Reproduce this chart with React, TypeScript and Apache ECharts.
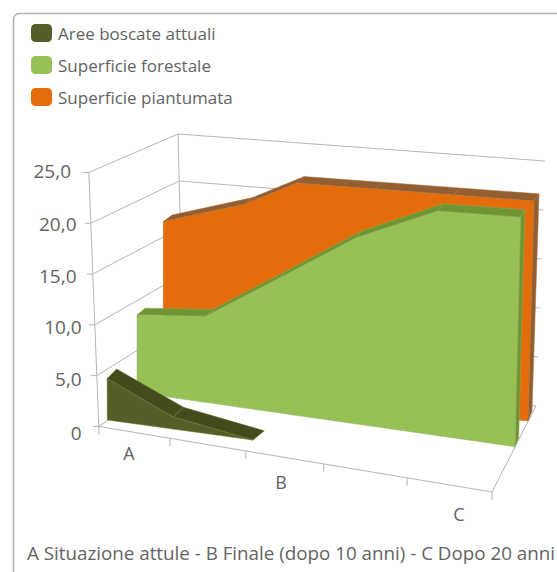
import React, { useEffect, useRef } from "react";
import * as echarts from "echarts";

const seriesNames = ["Superficie piantumata", "Superficie forestale", "Aree boscate attuali"];
const orangeValues = [16.9, 19.4, 22, 22, 22, 22];
const greenValues = [8, 8.8, 13.65, 18.6, 22.2, 22.5];
const oliveValues = [4.1, 1.2, 0, null, null, null];
const valueTicks = [0, 5, 10, 15, 20, 25];
const valueLabels = ["0", "5,0", "10,0", "15,0", "20,0", "25,0"];
const categoryLabels = ["A", "B", "C"];
const footer = "A Situazione attule - B Finale (dopo 10 anni) - C Dopo 20 anni";

const TEXT = "#636363";
const LINE = "#b4b4b4";
const FONT = '"Open Sans", sans-serif';
const V_MAX = 25;
const xTicks = [0, 0.181, 0.374, 0.572, 0.784, 1];

type Pt = [number, number];
// Plane: corners in projected page space: bottom-left, bottom-right, top-left, top-right
type Plane = { bl: Pt; br: Pt; tl: Pt; tr: Pt };

const lerp = (a: Pt, b: Pt, t: number): Pt => [a[0] + (b[0] - a[0]) * t, a[1] + (b[1] - a[1]) * t];
const project = (p: Plane, f: number, v: number): Pt => {
  const b = lerp(p.bl, p.br, f);
  const t = lerp(p.tl, p.tr, f);
  return lerp(b, t, v / V_MAX);
};

const frontWall: Plane = { bl: [98.8, 426.4], br: [492, 492], tl: [88.8, 172.5], tr: [496, 227] };
const leftBackWall: Plane = { bl: [184, 369], br: [536, 406], tl: [178, 134], tr: [545, 161] };

const layers = [
  {
    values: orangeValues,
    xf: [0, 0.22, 0.36, 0.572, 0.784, 1],
    front: { bl: [163.3, 383], br: [528, 421], tl: [163.3, 144.25], tr: [534.8, 171] } as Plane,
    back: { bl: [172, 374.7], br: [532, 411], tl: [172, 138.45], tr: [540, 164.25] } as Plane,
    color: "#e46c0a",
    top: "#935f32",
    edge: "#a9713d",
  },
  {
    values: greenValues,
    xf: xTicks,
    front: { bl: [137, 392.5], br: [515, 446.7], tl: [137, 150], tr: [521.3, 191.7] } as Plane,
    back: { bl: [145, 385], br: [518.7, 438], tl: [145, 145], tr: [525.5, 184.25] } as Plane,
    color: "#97c157",
    top: "#6f9433",
    edge: "#8cac5a",
  },
  {
    values: oliveValues,
    xf: [0, 0.168, 0.371, 0.572, 0.784, 1],
    front: { bl: [107.3, 420], br: [500, 474], tl: [106.3, 167.5], tr: [503, 212] } as Plane,
    back: { bl: [116.7, 410], br: [514.5, 466], tl: [116.3, 160], tr: [518.5, 206] } as Plane,
    color: "#535f27",
    top: "#434b1c",
    edge: "#6a7428",
  },
];

const seg = (a: Pt, b: Pt, color = LINE) => ({
  type: "line",
  shape: { x1: a[0], y1: a[1], x2: b[0], y2: b[1] },
  style: { stroke: color, lineWidth: 1, fill: null },
  silent: true,
});

const label = (text: string, x: number, y: number, align: string, size: number) => ({
  type: "text",
  style: { text, x, y, align, verticalAlign: "middle", fill: TEXT, font: `${size}px ${FONT}` },
  silent: true,
});

const valueLabelPos: Pt[] = [[81.7, 432.7], [81.7, 379], [81.7, 327], [76.5, 275.7], [76.5, 224], [71, 170.7]];
const categoryLabelPos: Pt[] = [[129, 453], [281, 482], [459, 514]];

function renderAxes() {
  const children: any[] = [];
  valueTicks.forEach((v, i) => {
    const fl = project(frontWall, 0, v);
    const bl = project(leftBackWall, 0, v);
    const br = project(leftBackWall, 1, v);
    children.push(seg(fl, bl), seg(bl, br), seg([fl[0] - 6, fl[1]], fl));
    const p = valueLabelPos[i];
    children.push(label(valueLabels[i], p[0], p[1], "right", 19));
  });
  children.push(seg(project(frontWall, 0, 0), project(frontWall, 0, V_MAX)));
  children.push(seg(project(leftBackWall, 0, 0), project(leftBackWall, 0, V_MAX)));
  children.push(seg(project(frontWall, 0, 0), project(frontWall, 1, 0)));
  children.push(seg(project(frontWall, 1, 0), project(leftBackWall, 1, 0)));
  xTicks.forEach((f) => {
    const p = project(frontWall, f, 0);
    children.push(seg(p, [p[0], p[1] + 8]));
  });
  categoryLabels.forEach((c, i) => {
    const p = categoryLabelPos[i];
    children.push(label(c, p[0], p[1], "center", 18));
  });
  return { type: "group", children };
}

function renderLayer(layer: (typeof layers)[number]) {
  const pts = layer.values
    .map((v, i) => ({ v, f: layer.xf[i] }))
    .filter((d) => d.v !== null) as { v: number; f: number }[];
  const fr = pts.map((d) => project(layer.front, d.f, d.v));
  const bk = pts.map((d) => project(layer.back, d.f, d.v));
  const last = pts[pts.length - 1];
  const children: any[] = [];
  for (let i = 0; i < pts.length - 1; i++) {
    children.push({
      type: "polygon",
      shape: { points: [fr[i], fr[i + 1], bk[i + 1], bk[i]] },
      style: { fill: layer.top, stroke: layer.edge, lineWidth: 0.5 },
      silent: true,
    });
  }
  if (last.v > 0) {
    children.push({
      type: "polygon",
      shape: {
        points: [fr[fr.length - 1], bk[bk.length - 1], project(layer.back, last.f, 0), project(layer.front, last.f, 0)],
      },
      style: { fill: layer.top, stroke: layer.edge, lineWidth: 0.5 },
      silent: true,
    });
  }
  children.push({
    type: "polygon",
    shape: { points: [project(layer.front, pts[0].f, 0), ...fr, project(layer.front, last.f, 0)] },
    style: { fill: layer.color, stroke: layer.edge, lineWidth: 0.5 },
    silent: true,
  });
  return { type: "group", children };
}

export default function App() {
  const ref = useRef<HTMLDivElement>(null);
  useEffect(() => {
    document.body.style.margin = "0";
    const chart = echarts.init(ref.current!, null, { renderer: "svg" });
    chart.setOption({
      animation: false,
      backgroundColor: "#ffffff",
      title: {
        text: footer,
        left: 27,
        top: 543,
        padding: 0,
        textStyle: { color: TEXT, fontFamily: FONT, fontSize: 18.8, fontWeight: "normal" },
      },
      legend: {
        orient: "vertical",
        left: 31,
        top: 24,
        padding: 0,
        itemWidth: 21,
        itemHeight: 18,
        itemGap: 14,
        icon: "roundRect",
        data: [seriesNames[2], seriesNames[1], seriesNames[0]],
        selectedMode: false,
        textStyle: { color: TEXT, fontFamily: FONT, fontSize: 17, padding: [0, 0, 0, 1] },
      },
      graphic: [
        {
          type: "rect",
          z: -1,
          silent: true,
          shape: { x: 13.5, y: 13.5, width: 800, height: 800, r: 6 },
          style: { fill: "none", stroke: "#b4b4b4", lineWidth: 1.5 },
        },
      ],
      series: [
        {
          type: "custom",
          name: "axes",
          coordinateSystem: "none",
          data: [0],
          z: 1,
          renderItem: () => renderAxes(),
        },
        ...layers.map((layer, i) => ({
          type: "custom",
          name: seriesNames[i],
          coordinateSystem: "none",
          data: layer.values.map((v, k) => [k, v]),
          itemStyle: { color: layer.color },
          z: 2 + i,
          renderItem: (params: any) => (params.dataIndex === 0 ? renderLayer(layer) : null),
        })),
      ],
    });
    return () => chart.dispose();
  }, []);
  return <div ref={ref} style={{ position: "absolute", left: 0, top: 0, width: 557, height: 572, overflow: "hidden" }} />;
}
